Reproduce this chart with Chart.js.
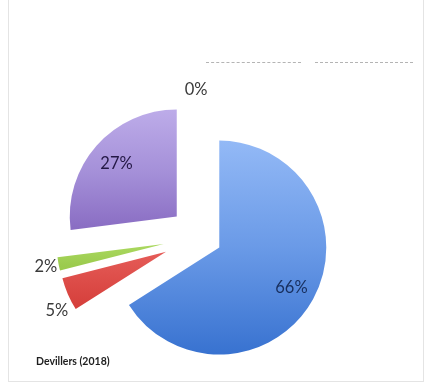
<!DOCTYPE html>
<html>
<head>
<meta charset="utf-8">
<script src="https://cdn.jsdelivr.net/npm/chart.js@4/dist/chart.umd.min.js"></script>
<style>
  html, body { margin: 0; padding: 0; background: #fff; }
  #wrap { position: relative; width: 428px; height: 383px; overflow: hidden; }
  #frame { position: absolute; left: 8px; top: -1px; width: 416px; height: 383px; border: 1px solid #e4e4e4; box-sizing: border-box; }
  #pie { position: absolute; left: 0; top: 0; }
  #source { position: absolute; left: 36px; top: 355px; font: bold 10.5px Lato, sans-serif; color: #1e1e1e; }
  .cut { position: absolute; top: 62px; height: 0; border-top: 1px dashed #b4b4b4; }
</style>
</head>
<body>
<div id="wrap">
  <div id="frame"></div>
  <div class="cut" style="left:206px;width:95px"></div>
  <div class="cut" style="left:315px;width:98px"></div>
  <canvas id="pie" width="428" height="383"></canvas>
  <div id="source">Devillers (2018)</div>
</div>
<script>
// slice order runs clockwise from 12 o'clock
const categories = ['Catégorie 1', 'Catégorie 2', 'Catégorie 3', 'Catégorie 4', 'Catégorie 5'];
const shares = [66, 5, 2, 27, 0];

// how far each slice is pulled out from the centre (px)
const explode = [22, 37, 37, 31, 0];
// label distance as a fraction of the radius, and a small angular nudge (deg)
const labelDist = [0.77, 1.16, 1.12, 0.75, 1.38];
const labelTurn = [0, -5, 0, 0, -1.5];
const labelColors = ['#182f5e', '#3a3a3a', '#3a3a3a', '#241845', '#3a3a3a'];

// vertical gradient stops for each slice
const fills = [
  [[0, '#93b9f6'], [0.5, '#6a9ae7'], [1, '#3872d0']],
  [[0, '#f7a09c'], [0.45, '#e8625e'], [0.8, '#d33a36'], [1, '#c02e2a']],
  [[0, '#cdef96'], [0.47, '#b0dd66'], [0.6, '#9bcb4e'], [1, '#86b83c']],
  [[0, '#bdace9'], [0.3, '#a48fd8'], [0.58, '#876ac1'], [1, '#6f50ad']],
  [[0, '#cccccc'], [1, '#999999']]
];

const pieRadius = 107;
const total = shares.reduce((a, b) => a + b, 0);

function midAngle(i) {
  const before = shares.slice(0, i).reduce((a, b) => a + b, 0);
  return -Math.PI / 2 + 2 * Math.PI * (before + shares[i] / 2) / total;
}

function sliceFill(ctx) {
  const i = ctx.dataIndex;
  const area = ctx.chart.chartArea;
  if (!area) return fills[i][1][1];
  const cy = (area.top + area.bottom) / 2 + Math.sin(midAngle(i)) * explode[i];
  const g = ctx.chart.ctx.createLinearGradient(0, cy - pieRadius, 0, cy + pieRadius);
  fills[i].forEach(([stop, col]) => g.addColorStop(stop, col));
  return g;
}

// push each arc outward along its own bisector
const explodePlugin = {
  id: 'explode',
  afterDatasetsUpdate(chart) {
    chart.getDatasetMeta(0).data.forEach((arc, i) => {
      const mid = (arc.startAngle + arc.endAngle) / 2;
      arc.x += Math.cos(mid) * explode[i];
      arc.y += Math.sin(mid) * explode[i];
    });
  }
};

// percentage labels
const labelPlugin = {
  id: 'pctLabels',
  afterDatasetsDraw(chart) {
    const ctx = chart.ctx;
    ctx.save();
    ctx.font = '16.5px Lato, sans-serif';
    ctx.textAlign = 'center';
    ctx.textBaseline = 'middle';
    chart.getDatasetMeta(0).data.forEach((arc, i) => {
      const a = (arc.startAngle + arc.endAngle) / 2 + labelTurn[i] * Math.PI / 180;
      const d = labelDist[i] * arc.outerRadius;
      ctx.fillStyle = labelColors[i];
      ctx.fillText(shares[i] + '%', arc.x + Math.cos(a) * d, arc.y + Math.sin(a) * d);
    });
    ctx.restore();
  }
};

new Chart(document.getElementById('pie').getContext('2d'), {
  type: 'pie',
  data: {
    labels: categories,
    datasets: [{
      data: shares,
      backgroundColor: sliceFill,
      borderWidth: 0,
      radius: pieRadius
    }]
  },
  options: {
    responsive: false,
    animation: false,
    events: [],
    layout: { padding: { left: 10, right: 38, top: 101, bottom: 10 } },
    plugins: {
      legend: { display: false },
      tooltip: { enabled: false }
    }
  },
  plugins: [explodePlugin, labelPlugin]
});
</script>
</body>
</html>
